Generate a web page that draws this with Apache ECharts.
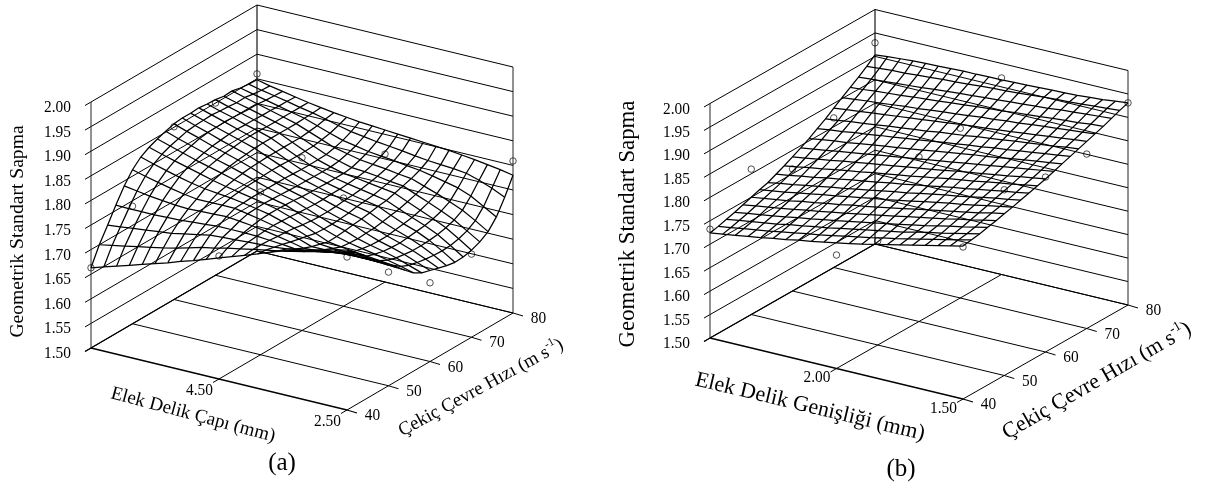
<!DOCTYPE html>
<html><head><meta charset="utf-8"><style>html,body{margin:0;padding:0;background:#fff}#c{width:1205px;height:486px}</style>
<script src="https://cdn.jsdelivr.net/npm/echarts@6/dist/echarts.min.js"></script></head><body><div id="c"></div>
<script>
const speedTicks=[40,50,60,70,80];
const zTicks=[1.50,1.55,1.60,1.65,1.70,1.75,1.80,1.85,1.90,1.95,2.00];
const sieveTicksA=[6.5,4.5,2.5];
const sieveTicksB=[2.5,2.0,1.5];
const sieveLabelsA=["","4.50","2.50"];
const sieveLabelsB=["","2.00","1.50"];
// measured points: one row per sieve tick, one value per speed tick
const pointsA=[[1.663,1.739,1.851,1.850,1.860],[1.750,1.831,1.851,1.720,1.760],[1.811,1.731,1.660,1.669,1.809]];
const pointsB=[[1.732,1.810,1.760,1.819,1.929],[1.742,1.722,1.851,1.862,1.919],[1.824,1.896,1.873,1.872,1.931]];
// fitted surfaces: rows run from speed 40 to 80, columns from the largest to the smallest opening
const surfaceA=[
[1.663,1.671,1.679,1.687,1.695,1.703,1.711,1.720,1.728,1.737,1.746,1.755,1.764,1.773,1.783,1.792,1.799,1.806,1.813,1.819,1.825],
[1.700,1.705,1.710,1.715,1.720,1.725,1.731,1.738,1.745,1.750,1.756,1.761,1.766,1.771,1.776,1.781,1.787,1.793,1.798,1.804,1.810],
[1.730,1.733,1.736,1.739,1.742,1.745,1.750,1.755,1.760,1.762,1.763,1.765,1.766,1.767,1.770,1.774,1.780,1.785,1.788,1.792,1.795],
[1.761,1.760,1.760,1.760,1.761,1.762,1.764,1.766,1.768,1.768,1.768,1.767,1.765,1.763,1.760,1.762,1.767,1.772,1.774,1.775,1.775],
[1.790,1.786,1.782,1.779,1.776,1.775,1.776,1.777,1.778,1.775,1.772,1.768,1.763,1.758,1.752,1.753,1.756,1.760,1.761,1.761,1.760],
[1.813,1.806,1.800,1.794,1.789,1.785,1.785,1.785,1.785,1.780,1.775,1.769,1.762,1.754,1.745,1.745,1.746,1.748,1.748,1.747,1.745],
[1.829,1.821,1.814,1.807,1.801,1.796,1.793,1.790,1.786,1.781,1.776,1.768,1.760,1.750,1.740,1.738,1.737,1.737,1.735,1.733,1.730],
[1.839,1.831,1.824,1.817,1.810,1.803,1.797,1.792,1.787,1.782,1.776,1.767,1.757,1.746,1.735,1.731,1.728,1.725,1.722,1.719,1.715],
[1.846,1.838,1.830,1.822,1.815,1.808,1.801,1.794,1.787,1.781,1.775,1.765,1.755,1.745,1.736,1.729,1.724,1.719,1.713,1.707,1.700],
[1.852,1.843,1.835,1.827,1.819,1.812,1.804,1.795,1.787,1.780,1.774,1.764,1.754,1.745,1.738,1.728,1.721,1.715,1.708,1.699,1.690],
[1.857,1.848,1.840,1.831,1.823,1.815,1.806,1.796,1.787,1.779,1.772,1.763,1.754,1.746,1.740,1.729,1.720,1.713,1.705,1.695,1.685],
[1.859,1.850,1.842,1.833,1.825,1.817,1.807,1.797,1.787,1.778,1.771,1.763,1.755,1.748,1.742,1.730,1.720,1.712,1.703,1.692,1.680],
[1.859,1.851,1.843,1.835,1.827,1.819,1.808,1.797,1.786,1.778,1.771,1.764,1.757,1.751,1.745,1.733,1.723,1.714,1.703,1.690,1.675],
[1.860,1.852,1.844,1.836,1.828,1.820,1.808,1.796,1.785,1.777,1.770,1.764,1.758,1.753,1.748,1.736,1.725,1.716,1.704,1.689,1.672],
[1.858,1.850,1.843,1.835,1.828,1.820,1.808,1.796,1.785,1.777,1.770,1.765,1.760,1.755,1.750,1.739,1.728,1.718,1.706,1.690,1.673],
[1.857,1.849,1.842,1.835,1.827,1.820,1.808,1.796,1.785,1.777,1.770,1.767,1.763,1.759,1.755,1.744,1.733,1.722,1.710,1.694,1.677],
[1.854,1.847,1.841,1.834,1.827,1.820,1.808,1.797,1.786,1.779,1.772,1.770,1.767,1.763,1.760,1.749,1.739,1.728,1.716,1.700,1.684],
[1.855,1.848,1.841,1.834,1.827,1.820,1.810,1.800,1.790,1.784,1.778,1.775,1.772,1.768,1.765,1.756,1.747,1.737,1.726,1.711,1.695],
[1.851,1.845,1.839,1.833,1.827,1.821,1.812,1.803,1.795,1.790,1.785,1.782,1.779,1.775,1.772,1.767,1.761,1.755,1.745,1.730,1.715],
[1.849,1.843,1.838,1.833,1.827,1.822,1.816,1.809,1.803,1.799,1.795,1.792,1.789,1.785,1.782,1.780,1.778,1.775,1.767,1.757,1.745],
[1.848,1.842,1.837,1.832,1.827,1.823,1.819,1.816,1.813,1.811,1.809,1.807,1.805,1.803,1.801,1.799,1.796,1.793,1.789,1.785,1.780]];
const surfaceB=[
[1.724,1.728,1.732,1.736,1.740,1.745,1.749,1.754,1.758,1.763,1.768,1.773,1.778,1.784,1.790,1.796,1.802,1.808,1.814,1.820,1.826],
[1.728,1.732,1.736,1.740,1.744,1.749,1.753,1.758,1.762,1.767,1.772,1.777,1.782,1.788,1.793,1.799,1.805,1.811,1.817,1.823,1.829],
[1.733,1.737,1.741,1.745,1.749,1.754,1.758,1.763,1.767,1.772,1.777,1.782,1.787,1.792,1.797,1.803,1.809,1.814,1.820,1.826,1.832],
[1.738,1.742,1.746,1.750,1.754,1.759,1.763,1.768,1.772,1.777,1.782,1.787,1.792,1.797,1.802,1.807,1.813,1.819,1.824,1.830,1.836],
[1.744,1.748,1.752,1.756,1.760,1.765,1.769,1.774,1.778,1.783,1.788,1.793,1.798,1.803,1.808,1.813,1.818,1.824,1.829,1.835,1.840],
[1.750,1.754,1.758,1.762,1.767,1.771,1.776,1.780,1.785,1.789,1.794,1.799,1.804,1.809,1.814,1.819,1.824,1.829,1.834,1.840,1.845],
[1.756,1.760,1.764,1.769,1.773,1.778,1.782,1.787,1.791,1.796,1.800,1.805,1.810,1.815,1.820,1.825,1.829,1.834,1.839,1.844,1.849],
[1.761,1.766,1.770,1.775,1.779,1.784,1.788,1.793,1.797,1.802,1.807,1.811,1.816,1.821,1.826,1.830,1.835,1.840,1.845,1.849,1.854],
[1.769,1.773,1.778,1.782,1.787,1.791,1.796,1.800,1.804,1.809,1.813,1.818,1.822,1.827,1.832,1.836,1.841,1.845,1.850,1.854,1.859],
[1.777,1.781,1.786,1.790,1.795,1.799,1.803,1.808,1.812,1.816,1.820,1.825,1.829,1.834,1.838,1.842,1.847,1.851,1.855,1.860,1.864],
[1.786,1.790,1.794,1.798,1.803,1.807,1.811,1.815,1.819,1.823,1.827,1.831,1.835,1.840,1.844,1.848,1.852,1.856,1.861,1.865,1.869],
[1.795,1.799,1.803,1.807,1.811,1.815,1.819,1.823,1.827,1.831,1.835,1.839,1.843,1.847,1.851,1.855,1.859,1.863,1.867,1.871,1.875],
[1.805,1.809,1.813,1.816,1.820,1.824,1.828,1.831,1.835,1.839,1.843,1.847,1.851,1.855,1.858,1.862,1.866,1.870,1.874,1.877,1.881],
[1.816,1.820,1.823,1.827,1.830,1.834,1.837,1.841,1.844,1.848,1.852,1.855,1.859,1.862,1.866,1.869,1.873,1.876,1.880,1.883,1.887],
[1.827,1.830,1.834,1.837,1.840,1.844,1.847,1.850,1.853,1.857,1.860,1.863,1.867,1.870,1.873,1.877,1.880,1.883,1.886,1.890,1.893],
[1.840,1.843,1.846,1.849,1.852,1.855,1.858,1.861,1.864,1.867,1.870,1.873,1.875,1.878,1.881,1.884,1.887,1.890,1.893,1.896,1.899],
[1.852,1.855,1.858,1.860,1.863,1.866,1.868,1.871,1.874,1.876,1.879,1.882,1.884,1.887,1.889,1.892,1.895,1.897,1.900,1.902,1.905],
[1.864,1.866,1.869,1.871,1.873,1.876,1.878,1.880,1.883,1.885,1.888,1.890,1.892,1.895,1.897,1.899,1.902,1.904,1.906,1.909,1.911],
[1.876,1.878,1.880,1.882,1.884,1.886,1.889,1.891,1.893,1.895,1.897,1.899,1.901,1.903,1.905,1.907,1.910,1.912,1.914,1.916,1.918],
[1.889,1.891,1.893,1.894,1.896,1.898,1.900,1.901,1.903,1.905,1.907,1.908,1.910,1.912,1.914,1.916,1.917,1.919,1.921,1.923,1.925],
[1.903,1.906,1.908,1.910,1.911,1.912,1.913,1.914,1.914,1.915,1.915,1.916,1.917,1.918,1.919,1.920,1.921,1.923,1.925,1.928,1.931]];

const SERIF='"Liberation Serif","Times New Roman",serif';
const panels=[
 {A:[91,348],B:[347,410],D:[257,251],h:492,surface:surfaceA,points:pointsA,sieve:sieveTicksA,sieveLabels:sieveLabelsA,
  zRight:71,sieveDy:11,
  yTitle:{x:18,y:231.5,size:19.6},
  xTitle:{t:'Elek Delik Çapı (mm)',x:193,y:415,size:19,rot:15},
  sTitle:{x:481,y:388,size:18.9,rot:28.6},
  cap:{t:'(a)',x:282,y:463}},
 {A:[710,338],B:[963,399],D:[875,244],h:469,surface:surfaceB,points:pointsB,sieve:sieveTicksB,sieveLabels:sieveLabelsB,
  zRight:690,sieveDy:9,
  yTitle:{x:628,y:224,size:22.8},
  xTitle:{t:'Elek Delik Genişliği (mm)',x:810,y:407,size:22,rot:13.5},
  sTitle:{x:1097,y:381,size:21.9,rot:30},
  cap:{t:'(b)',x:901,y:469}}
];
const TICK_SIZE=17.3,TICK_SQUEEZE=0.89;
const series=[],graphics=[];
function addLine(pts,w,color){
 series.push({type:'line',data:pts,symbol:'none',silent:true,animation:false,clip:false,
  lineStyle:{width:w||1,color:color||'#000'},emphasis:{disabled:true},smooth:false});
}
function addText(t,x,y,size,align,rot,extra,sx){
 graphics.push({type:'text',x:x,y:y,rotation:(rot||0)*Math.PI/180,scaleX:sx||1,silent:true,
  style:Object.assign({text:t,font:size+'px '+SERIF,fill:'#000',align:align||'center',verticalAlign:'middle'},extra||{})});
}
panels.forEach(p=>{
 const sMin=speedTicks[0],sMax=speedTicks[speedTicks.length-1];
 const zMin=zTicks[0],zMax=zTicks[zTicks.length-1];
 const sv0=p.sieve[0],sv1=p.sieve[p.sieve.length-1];
 const ab=[p.B[0]-p.A[0],p.B[1]-p.A[1]],ad=[p.D[0]-p.A[0],p.D[1]-p.A[1]];
 const prj=(u,v,z)=>[p.A[0]+u*ab[0]+v*ad[0],p.A[1]+u*ab[1]+v*ad[1]-(z-zMin)/(zMax-zMin)*p.h/2];
 const uOf=s=>(s-sv0)/(sv1-sv0), vOf=s=>(s-sMin)/(sMax-sMin);
 // walls
 zTicks.forEach(z=>{
  const a=prj(0,0,z),d=prj(0,1,z),c=prj(1,1,z);
  addLine([[a[0]-6,a[1]+3.5],a,d],1);
  addLine([d,c],1);
  addText(z.toFixed(2),p.zRight,a[1]+5.5,TICK_SIZE,'right',0,null,TICK_SQUEEZE);
 });
 // verticals
 addLine([prj(0,0,zMin),prj(0,0,zMax)],1,'#222');
 addLine([prj(1,1,zMin),prj(1,1,zMax)],1,'#222');
 addLine([prj(0,1,zMin),prj(0,1,zMax)],1.1,'#000');
 // floor: speed lines
 speedTicks.forEach(s=>{
  const v=vOf(s),a=prj(0,v,zMin),b=prj(1,v,zMin);
  addLine([a,b,[b[0]+10,b[1]+3]],s===sMin?1.3:1);
  addText(String(s),b[0]+25.5,b[1]+5.5,TICK_SIZE,'center',0,null,TICK_SQUEEZE);
 });
 // floor: sieve lines
 p.sieve.forEach((s,i)=>{
  const u=uOf(s),a=prj(u,0,zMin),d=prj(u,1,zMin);
  addLine([[a[0]-6,a[1]+3.5],a,d],i===0?1.3:1);
  if(p.sieveLabels[i])addText(p.sieveLabels[i],a[0]-6,a[1]+p.sieveDy,TICK_SIZE,'right',0,null,TICK_SQUEEZE);
 });
 // surface mesh
 const nv=p.surface.length,nu=p.surface[0].length;
 p.surface.forEach((row,k)=>addLine(row.map((z,i)=>prj(i/(nu-1),k/(nv-1),z)),1.25));
 for(let i=0;i<nu;i++)addLine(p.surface.map((row,k)=>prj(i/(nu-1),k/(nv-1),row[i])),1.25);
 // measured points
 const pts=[];
 p.points.forEach((row,i)=>row.forEach((z,j)=>pts.push(prj(uOf(p.sieve[i]),vOf(speedTicks[j]),z))));
 series.push({type:'scatter',data:pts,symbol:'circle',symbolSize:6.5,silent:true,animation:false,clip:false,
  itemStyle:{color:'rgba(255,255,255,0)',borderColor:'#222',borderWidth:1}});
 // titles
 addText('Geometrik Standart Sapma',p.yTitle.x,p.yTitle.y,p.yTitle.size,'center',90);
 addText(p.xTitle.t,p.xTitle.x,p.xTitle.y,p.xTitle.size,'center',-p.xTitle.rot);
 const ss=p.sTitle.size;
 addText('{a|Çekiç Çevre Hızı (m s}{b|-1}{a|)}',p.sTitle.x,p.sTitle.y,ss,'center',p.sTitle.rot,{
  rich:{a:{font:ss+'px '+SERIF,fill:'#000',lineHeight:ss+6},
        b:{font:(ss*0.62)+'px '+SERIF,fill:'#000',verticalAlign:'top',lineHeight:ss*0.62,padding:[0,0,ss*0.35,0]}}});
 addText(p.cap.t,p.cap.x,p.cap.y,25,'center');
});
const chart=echarts.init(document.getElementById('c'),null,{renderer:'canvas'});
chart.setOption({animation:false,backgroundColor:'#fff',
 grid:{left:0,right:0,top:0,bottom:0},
 xAxis:{type:'value',min:0,max:1205,show:false},
 yAxis:{type:'value',min:0,max:486,inverse:true,show:false},
 tooltip:{show:false},legend:{show:false},
 series:series,graphic:graphics});
</script></body></html>
